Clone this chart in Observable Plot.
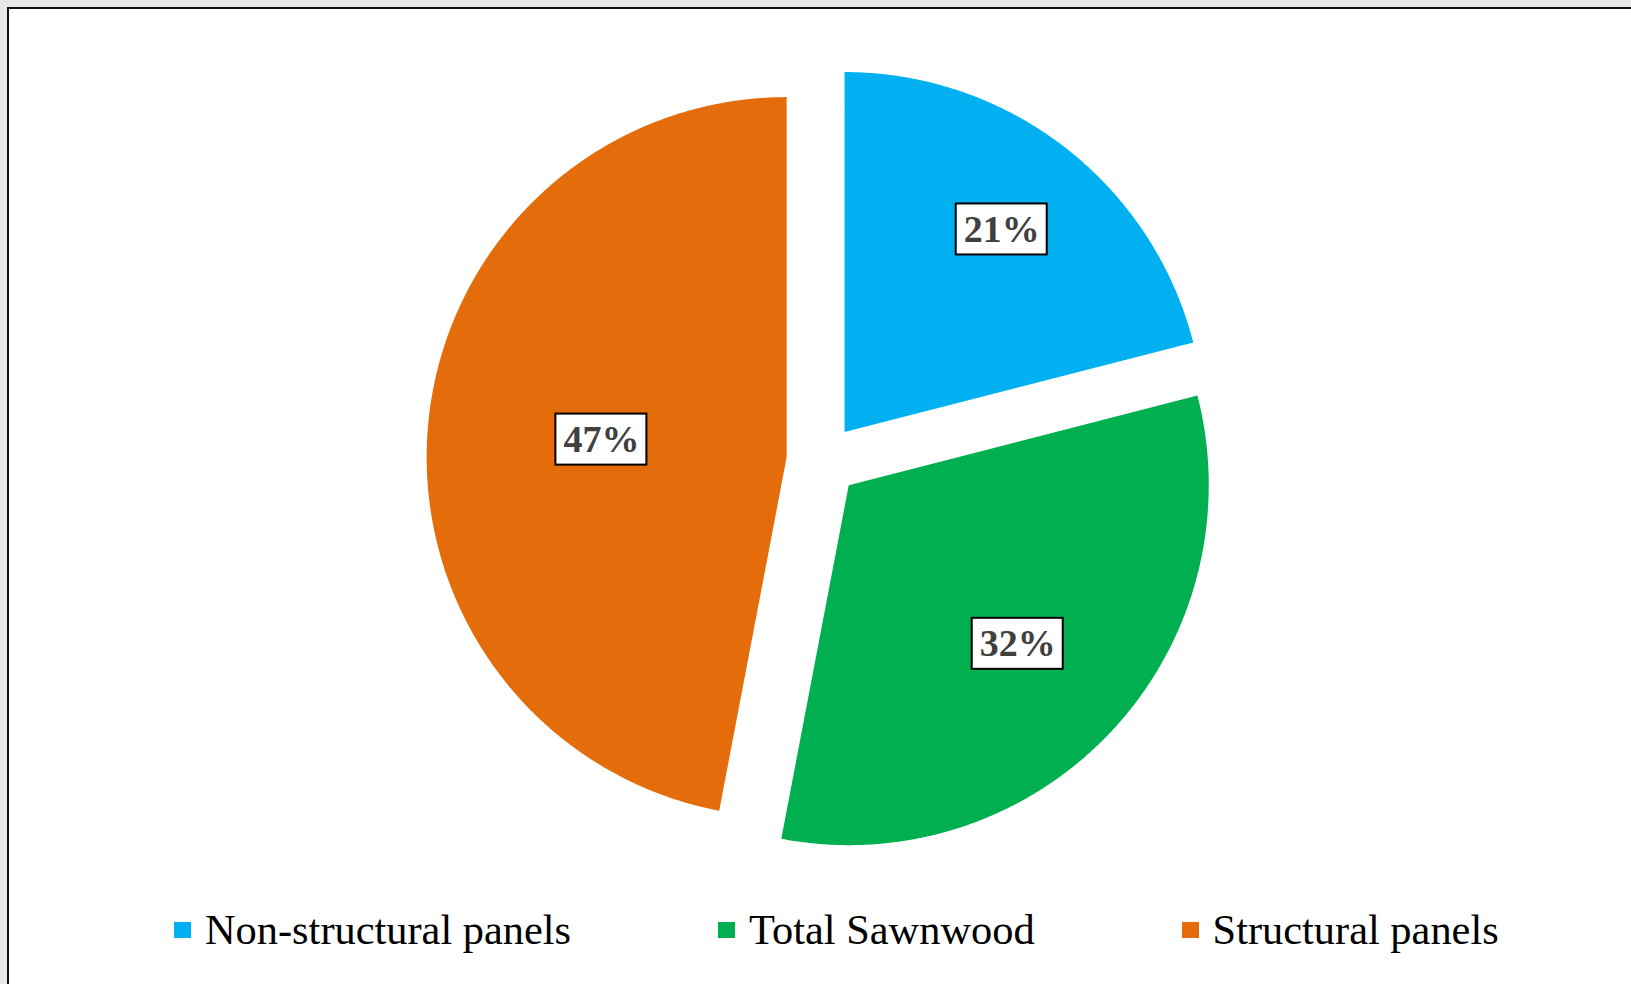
<!DOCTYPE html>
<html>
<head>
<meta charset="utf-8">
<script src="https://cdn.jsdelivr.net/npm/d3@7"></script>
<script src="https://cdn.jsdelivr.net/npm/@observablehq/plot@0.6"></script>
<style>
html, body { margin: 0; padding: 0; width: 1631px; height: 984px; overflow: hidden; background: #e8e8e6; }
#panel { position: absolute; left: 7px; top: 7px; width: 1650px; height: 1000px; background: #fff;
  border-left: 2.5px solid #111; border-top: 2.5px solid #111; }
#chart { position: absolute; left: 0; top: 0; }
#legend { position: absolute; left: 174px; top: 909px; display: flex; align-items: center; gap: 147px;
  font-family: "Liberation Serif", "Times New Roman", serif; font-size: 42.4px; line-height: 42px;
  color: #000; white-space: nowrap; }
.item { display: flex; align-items: center; }
.sw { width: 17px; height: 16px; margin-right: 14px; }
</style>
</head>
<body>
<div id="panel"></div>
<div id="chart"></div>
<div id="legend"></div>
<script>
// ---- data ----
const categories = ["Non-structural panels", "Total Sawnwood", "Structural panels"];
const shares = [21, 32, 47];
const shareLabels = ["21%", "32%", "47%"];
const colors = ["#00B0F0", "#00B050", "#E46C0A"];

// ---- layout (pixels) ----
const W = 1631, H = 890;
const R = 360;                 // pie radius in px
const CX = 822, CY = 460;      // pie centre in px
const EXPLODE = 0.1;           // explosion as fraction of radius
const BOX_W = 91 / R, BOX_H = 51 / R;

const arcs = d3.pie().sort(null).value(d => d)(shares);

const slicePts = [];
const labelData = [];
arcs.forEach((a, i) => {
  const mid = (a.startAngle + a.endAngle) / 2;
  const ox = EXPLODE * Math.sin(mid), oy = -EXPLODE * Math.cos(mid);
  slicePts.push({cat: categories[i], x: ox, y: oy});
  const n = Math.ceil((a.endAngle - a.startAngle) / (Math.PI / 720));
  for (let k = 0; k <= n; k++) {
    const t = a.startAngle + (a.endAngle - a.startAngle) * k / n;
    slicePts.push({cat: categories[i], x: ox + Math.sin(t), y: oy - Math.cos(t)});
  }
  const half = (a.endAngle - a.startAngle) / 2;
  const f = 1.15 * 2 * Math.sin(half) / (3 * half);
  labelData.push({
    cat: categories[i], label: shareLabels[i],
    x: ox + f * Math.sin(mid), y: oy - f * Math.cos(mid)
  });
});

const chart = Plot.plot({
  width: W, height: H,
  marginTop: 0, marginRight: 0, marginBottom: 0, marginLeft: 0,
  style: {background: "transparent", overflow: "visible"},
  x: {domain: [-CX / R, (W - CX) / R], range: [0, W], axis: null},
  y: {domain: [-CY / R, (H - CY) / R], range: [0, H], axis: null},
  color: {domain: categories, range: colors},
  marks: [
    Plot.line(slicePts, {x: "x", y: "y", z: "cat", fill: "cat", stroke: "none", curve: "linear-closed"}),
    Plot.rect(labelData, {
      x1: d => d.x - BOX_W / 2, x2: d => d.x + BOX_W / 2,
      y1: d => d.y - BOX_H / 2, y2: d => d.y + BOX_H / 2,
      fill: "white", stroke: "#000", strokeWidth: 2
    }),
    Plot.text(labelData, {
      x: "x", y: "y", text: "label", fontSize: 38, fontWeight: "bold",
      fontFamily: "Liberation Serif", fill: "#404040"
    })
  ]
});
document.getElementById("chart").appendChild(chart);

// ---- legend ----
const legend = document.getElementById("legend");
categories.forEach((c, i) => {
  const item = document.createElement("div");
  item.className = "item";
  const sw = document.createElement("span");
  sw.className = "sw";
  sw.style.background = colors[i];
  const tx = document.createElement("span");
  tx.textContent = c;
  item.appendChild(sw); item.appendChild(tx);
  legend.appendChild(item);
});
</script>
</body>
</html>
